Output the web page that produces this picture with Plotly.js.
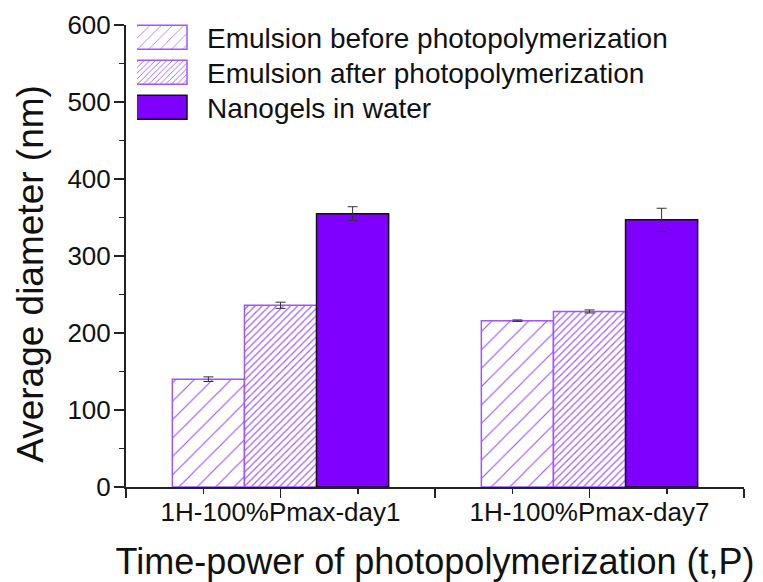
<!DOCTYPE html>
<html>
<head>
<meta charset="utf-8">
<script src="https://cdn.plot.ly/plotly-3.0.1.min.js"></script>
<style>
  html, body { margin: 0; padding: 0; background: #ffffff; }
  #chart { width: 763px; height: 582px; }
</style>
</head>
<body>
<div id="chart"></div>
<script>
// Average droplet / particle diameter (nm) per sample condition
const categories = ['1H-100%Pmax-day1', '1H-100%Pmax-day7'];
const seriesNames = [
  'Emulsion before photopolymerization',
  'Emulsion after photopolymerization',
  'Nanogels in water'
];
const beforeValues = [140, 216];
const afterValues = [236, 228];
const nanogelValues = [355, 347];
const beforeErrors = [3, 1];
const afterErrors = [4, 2];
const nanogelErrors = [9, 15];
const yTicks = [0, 100, 200, 300, 400, 500, 600];

const purple = '#7f00ff';
const hatchPurple = '#9d55ff';
const font = '"Liberation Sans", Arial, sans-serif';

// category positions on a numeric axis so unlabeled ticks can sit between groups
const xPos = categories.map((c, i) => i);

function errorSpec(arr) {
  return { type: 'data', array: arr, visible: true, color: '#333333', thickness: 1, width: 5 };
}

const traces = [
  {
    type: 'bar', name: seriesNames[0], x: xPos, y: beforeValues,
    error_y: errorSpec(beforeErrors),
    marker: {
      color: '#ffffff',
      line: { color: hatchPurple, width: 1.5 },
      pattern: { shape: '/', fgcolor: hatchPurple, bgcolor: '#ffffff', size: 13, solidity: 0.09, fillmode: 'replace' }
    }
  },
  {
    type: 'bar', name: seriesNames[1], x: xPos, y: afterValues,
    error_y: errorSpec(afterErrors),
    marker: {
      color: '#ffffff',
      line: { color: hatchPurple, width: 1.5 },
      pattern: { shape: '/', fgcolor: hatchPurple, bgcolor: '#ffffff', size: 5, solidity: 0.22, fillmode: 'replace' }
    }
  },
  {
    type: 'bar', name: seriesNames[2], x: xPos, y: nanogelValues,
    error_y: errorSpec(nanogelErrors),
    marker: { color: purple, line: { color: '#111111', width: 1.5 } }
  }
];

const majorX = [-0.5, 0, 0.5, 1, 1.5];
const majorXText = ['', categories[0], '', categories[1], ''];

const layout = {
  width: 763,
  height: 582,
  margin: { l: 126, r: 19, t: 25, b: 95 },
  paper_bgcolor: '#ffffff',
  plot_bgcolor: '#ffffff',
  font: { family: font, color: '#111111' },
  barmode: 'group',
  bargap: 0.3,
  bargroupgap: 0,
  showlegend: true,
  legend: {
    x: 0.0178, y: 1.027, xanchor: 'left', yanchor: 'top',
    bgcolor: 'rgba(0,0,0,0)',
    font: { size: 28, family: font, color: '#111111' },
    itemwidth: 60,
    tracegroupgap: 0
  },
  xaxis: {
    range: [-0.5, 1.5],
    tickmode: 'array',
    tickvals: majorX,
    ticktext: majorXText,
    ticks: 'outside', ticklen: 9, tickwidth: 1.5, tickcolor: '#222222',
    ticklabelstandoff: -8,
    minor: { dtick: 0.25, tick0: -0.5, ticks: 'outside', ticklen: 5, tickwidth: 1.5, tickcolor: '#222222', showgrid: false },
    showline: true, linecolor: '#222222', linewidth: 2,
    showgrid: false, zeroline: false,
    tickfont: { size: 26, family: font, color: '#111111' },
    title: { text: 'Time-power of photopolymerization (t,P)', font: { size: 36, family: font, color: '#111111' }, standoff: 25 },
    automargin: false,
    fixedrange: true
  },
  yaxis: {
    range: [0, 600],
    tickmode: 'array',
    tickvals: yTicks,
    ticks: 'outside', ticklen: 10, tickwidth: 1.5, tickcolor: '#222222',
    ticklabelstandoff: -2,
    minor: { dtick: 50, ticks: 'outside', ticklen: 5, tickwidth: 1.5, tickcolor: '#222222', showgrid: false },
    showline: true, linecolor: '#222222', linewidth: 2,
    showgrid: false, zeroline: false,
    tickfont: { size: 26, family: font, color: '#111111' },
    title: { text: 'Average diameter (nm)', font: { size: 37, family: font, color: '#111111' }, standoff: 12 },
    automargin: false,
    fixedrange: true
  }
};

const ROW_STEP = 35;
const Y_TITLE_SHIFT = 18;

Plotly.newPlot('chart', traces, layout, { staticPlot: true, displayModeBar: false }).then(gd => {
  // long rectangular legend swatches, placed left of the item text
  gd.querySelectorAll('.legendpoints path').forEach(p => {
    p.setAttribute('d', 'M15,12H-42V-12H15Z');
  });
  // tighter legend rows
  const items = gd.querySelectorAll('.legend g.traces');
  let x0 = null, y0 = null;
  items.forEach((g, i) => {
    const m = /translate\(([-\d.]+),\s*([-\d.]+)\)/.exec(g.getAttribute('transform') || '');
    if (!m) return;
    if (i === 0) { x0 = parseFloat(m[1]); y0 = parseFloat(m[2]); }
    g.setAttribute('transform', 'translate(' + x0 + ',' + (y0 + i * ROW_STEP) + ')');
  });
  // y-axis title sits a little below the axis middle
  const yt = gd.querySelector('.ytitle');
  if (yt) {
    yt.setAttribute('transform', 'translate(0,' + Y_TITLE_SHIFT + ') ' + (yt.getAttribute('transform') || ''));
  }
});
</script>
</body>
</html>
